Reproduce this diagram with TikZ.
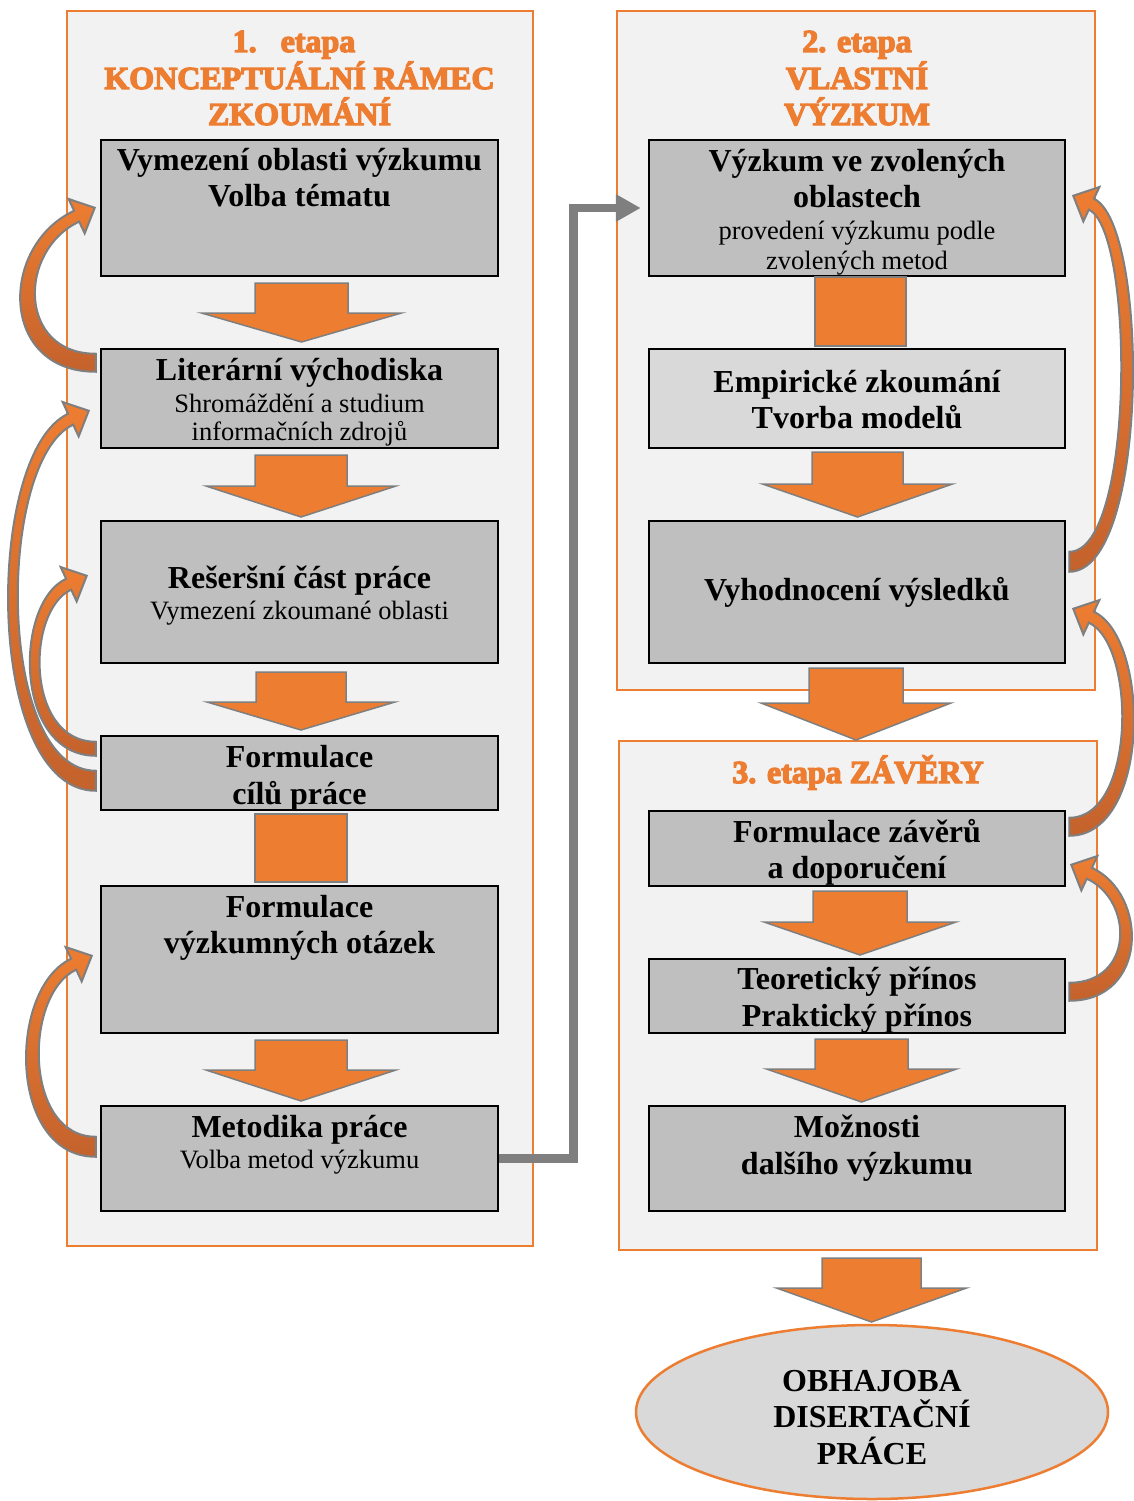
\documentclass[tikz,border=0pt]{standalone}
\usepackage{fontspec}
\setmainfont{Liberation Serif}
\usetikzlibrary{arrows.meta,calc,shapes.geometric}

\definecolor{ora}{HTML}{ED7D31}
\definecolor{oradark}{HTML}{C4622D}
\definecolor{panelbg}{HTML}{F2F2F2}
\definecolor{boxbg}{HTML}{BFBFBF}
\definecolor{boxlight}{HTML}{D9D9D9}
\definecolor{edgegray}{HTML}{7F7F7F}

% heavy outlined lettering for the stage headings (fill + stroke)
\newcommand\heavytext[1]{\special{pdf:literal direct 2 Tr 1.3 w}#1\special{pdf:literal direct 0 Tr}}

\tikzset{
  panel/.style={rectangle, draw=ora, line width=2.5pt, fill=panelbg, inner sep=0pt},
  stepbox/.style={rectangle, draw=black, line width=2.5pt, fill=boxbg, inner sep=0pt, minimum width=397pt},
  rstepbox/.style={stepbox, minimum width=416pt},
  hb/.style={font=\fontsize{32}{36}\selectfont\bfseries, anchor=base, inner sep=0pt},
  hr/.style={font=\fontsize{26.5}{30}\selectfont, anchor=base, inner sep=0pt},
  ttl/.style={font=\fontsize{32}{36}\selectfont\bfseries, text=ora, anchor=base, inner sep=0pt},
  blk/.style={fill=ora, draw=edgegray, line width=1.5pt, line join=miter},
  band/.style={draw=edgegray, line width=2pt, top color=ora, bottom color=oradark},
  link/.style={draw=edgegray, line width=8.5pt, -{Triangle[length=25pt,width=26pt]}}
}

% wide down arrow: centre x, top y, neck y, tip y, shaft half width, head half width
\newcommand\blockdown[6]{%
  \filldraw[blk] ({#1-#5},#2) -- ({#1+#5},#2) -- ({#1+#5},#3) -- ({#1+#6},#3)
    -- (#1,#4) -- ({#1-#6},#3) -- ({#1-#5},#3) -- cycle;}

% tapered curved arrow bulging to the left:
% tail point, tip point, bulge, tail half width, band width at the bend
\newcommand\bandleft[5]{%
  \path[band] let \p1=(#1), \p2=(#2), \p3=({\x2-18.1pt},{\y2-8.45pt}),
    \n1={(#3pt-0.125*(\x1-\x3))/0.75},
    \n2={(\x3-2.54pt-\x1+\n1)/0.906},
    \n3={(#3pt-#5pt-0.125*(\x1-\x3))/0.75},
    \n4={(\x3+2.54pt-\x1+\n3)/0.906}
  in ({\x1},{\y1-#4pt}) .. controls ({\x1-\n1},{\y1-#4pt}) and ({\x1-\n1},{\y3+5.44pt-0.423*\n2}) .. ({\x3-2.54pt},{\y3+5.44pt})
    -- ({\x3-8.04pt},{\y3+17.2pt}) -- (\x2,\y2) -- ({\x3+8.04pt},{\y3-17.2pt}) -- ({\x3+2.54pt},{\y3-5.44pt})
    .. controls ({\x1-\n3},{\y3-5.44pt-0.423*\n4}) and ({\x1-\n3},{\y1+#4pt}) .. ({\x1},{\y1+#4pt}) -- cycle;}

% tapered curved arrow bulging to the right
\newcommand\bandright[5]{%
  \path[band] let \p1=(#1), \p2=(#2), \p3=({\x2+18.1pt},{\y2-8.45pt}),
    \n1={(#3pt-0.125*(\x3-\x1))/0.75},
    \n2={(\x1+\n1-\x3-2.54pt)/0.906},
    \n3={(#3pt-#5pt-0.125*(\x3-\x1))/0.75},
    \n4={(\x1+\n3-\x3+2.54pt)/0.906}
  in ({\x1},{\y1-#4pt}) .. controls ({\x1+\n1},{\y1-#4pt}) and ({\x1+\n1},{\y3+5.44pt-0.423*\n2}) .. ({\x3+2.54pt},{\y3+5.44pt})
    -- ({\x3+8.04pt},{\y3+17.2pt}) -- (\x2,\y2) -- ({\x3-8.04pt},{\y3-17.2pt}) -- ({\x3-2.54pt},{\y3-5.44pt})
    .. controls ({\x1+\n3},{\y3-5.44pt-0.423*\n4}) and ({\x1+\n3},{\y1+#4pt}) .. ({\x1},{\y1+#4pt}) -- cycle;}

\begin{document}
\begin{tikzpicture}[x=1pt,y=-1pt]
\useasboundingbox (0,0) rectangle (1133,1501);

% stage panels
\node[panel, minimum width=466pt, minimum height=1235pt] (p1) at (300,628.5) {};
\node[panel, minimum width=478pt, minimum height=679pt] (p2) at (856,350.5) {};
\node[panel, minimum width=478pt, minimum height=509pt] (p3) at (858,995.5) {};

% left column boxes
\node[stepbox, minimum height=136pt] (b1) at (299.5,208) {};
\node[stepbox, minimum height=99pt]  (b2) at (299.5,398.5) {};
\node[stepbox, minimum height=142pt] (b3) at (299.5,592) {};
\node[stepbox, minimum height=74pt]  (b4) at (299.5,773) {};
\node[stepbox, minimum height=147pt] (b5) at (299.5,959.5) {};
\node[stepbox, minimum height=105pt] (b6) at (299.5,1158.5) {};

% right column boxes
\node[rstepbox, minimum height=136pt] (r1) at (857,208) {};
\node[rstepbox, minimum height=99pt, fill=boxlight] (r2) at (857,398.5) {};
\node[rstepbox, minimum height=142pt] (r3) at (857,592) {};
\node[rstepbox, minimum height=75pt]  (r4) at (857,848.5) {};
\node[rstepbox, minimum height=74pt]  (r5) at (857,996) {};
\node[rstepbox, minimum height=105pt] (r6) at (857,1158.5) {};

% final ellipse
\node[ellipse, draw=ora, line width=2.5pt, fill=boxlight, minimum width=472pt, minimum height=174pt, inner sep=0pt] (e1) at (872,1412) {};

% block arrows between steps
\blockdown{301.5}{283}{313}{342}{46.5}{100}
\blockdown{301}{455}{486}{517}{46}{95}
\blockdown{301}{672}{702}{730}{45}{94}
\filldraw[blk] (255,814) rectangle (347,882);
\blockdown{301}{1040}{1070}{1101}{46}{95}

\filldraw[blk] (815,277) rectangle (906,346);
\blockdown{857.5}{452}{484}{517}{45.5}{95}
\blockdown{856}{668}{703}{740}{47}{95}
\blockdown{860}{891}{922}{955}{47}{96}
\blockdown{861.5}{1039}{1069}{1102}{46.5}{95}
\blockdown{871.5}{1258}{1288}{1322}{49.5}{95}

% link from methodology to research
\draw[link] (b6.east) -- ++(74,0) |- ([xshift=-7pt]r1.west);

% feedback arrows
\coordinate (c1t) at ([shift={(-4,15)}]b2.north west);
\coordinate (c1h) at ([shift={(-5,69)}]b1.north west);
\coordinate (c2t) at ([shift={(-4,46)}]b4.north west);
\coordinate (c2h) at ([shift={(-11,63)}]b2.north west);
\coordinate (c3t) at ([shift={(-4,14)}]b4.north west);
\coordinate (c3h) at ([shift={(-13,56)}]b3.north west);
\coordinate (c4t) at ([shift={(-4,42)}]b6.north west);
\coordinate (c4h) at ([shift={(-8,71)}]b5.north west);
\coordinate (c5t) at ([shift={(3,42)}]r3.north east);
\coordinate (c5h) at ([shift={(7,57)}]r1.north east);
\coordinate (c6t) at ([shift={(3,17)}]r4.north east);
\coordinate (c6h) at ([shift={(7,89)}]r3.north east);
\coordinate (c7t) at ([shift={(3,34)}]r5.north east);
\coordinate (c7h) at ([shift={(5,55)}]r4.north east);

\bandleft{c1t}{c1h}{75}{9}{14}
\bandleft{c2t}{c2h}{87}{10}{9}
\bandleft{c3t}{c3h}{65}{7}{9}
\bandleft{c4t}{c4h}{69}{10}{12}
\bandright{c5t}{c5h}{63}{10}{11}
\bandright{c6t}{c6h}{64}{9}{11}
\bandright{c7t}{c7h}{62}{9}{11}

% panel titles
\node[ttl] (t1a) at (294,52) {\heavytext{1.\hspace{24pt}etapa}};
\node[ttl] (t1b) at (299.5,89) {\heavytext{KONCEPTUÁLNÍ RÁMEC}};
\node[ttl] (t1c) at (299.5,125) {\heavytext{ZKOUMÁNÍ}};
\node[ttl] (t2a) at (857,52) {\heavytext{2. etapa}};
\node[ttl] (t2b) at (857,89) {\heavytext{VLASTNÍ}};
\node[ttl] (t2c) at (857,125) {\heavytext{VÝZKUM}};
\node[ttl] (t3a) at (858,783) {\heavytext{3. etapa ZÁVĚRY}};

% left column texts
\node[hb] (b1a) at (299.5,170.5) {Vymezení oblasti výzkumu};
\node[hb] (b1b) at (299.5,206.5) {Volba tématu};
\node[hb] (b2a) at (299.5,380.5) {Literární východiska};
\node[hr] (b2b) at (299.5,412.5) {Shromáždění a studium};
\node[hr] (b2c) at (299.5,440.5) {informačních zdrojů};
\node[hb] (b3a) at (299.5,588.5) {Rešeršní část práce};
\node[hr] (b3b) at (299.5,619.5) {Vymezení zkoumané oblasti};
\node[hb] (b4a) at (299.5,767.5) {Formulace};
\node[hb] (b4b) at (299.5,804.5) {cílů práce};
\node[hb] (b5a) at (299.5,917.5) {Formulace};
\node[hb] (b5b) at (299.5,953.5) {výzkumných otázek};
\node[hb] (b6a) at (299.5,1137.5) {Metodika práce};
\node[hr] (b6b) at (299.5,1168.5) {Volba metod výzkumu};

% right column texts
\node[hb] (r1a) at (857,171.5) {Výzkum ve zvolených};
\node[hb] (r1b) at (857,207.5) {oblastech};
\node[hr] (r1c) at (857,239.5) {provedení výzkumu podle};
\node[hr] (r1d) at (857,269.5) {zvolených metod};
\node[hb] (r2a) at (857,392.5) {Empirické zkoumání};
\node[hb] (r2b) at (857,428.5) {Tvorba modelů};
\node[hb] (r3a) at (857,600.5) {Vyhodnocení výsledků};
\node[hb] (r4a) at (857,842.5) {Formulace závěrů};
\node[hb] (r4b) at (857,878.5) {a doporučení};
\node[hb] (r5a) at (857,989.5) {Teoretický přínos};
\node[hb] (r5b) at (857,1026.5) {Praktický přínos};
\node[hb] (r6a) at (857,1137.5) {Možnosti};
\node[hb] (r6b) at (857,1174.5) {dalšího výzkumu};

% ellipse text
\node[hb] (e1a) at (872,1391) {OBHAJOBA};
\node[hb] (e1b) at (872,1427) {DISERTAČNÍ};
\node[hb] (e1c) at (872,1464) {PRÁCE};
\end{tikzpicture}
\end{document}
